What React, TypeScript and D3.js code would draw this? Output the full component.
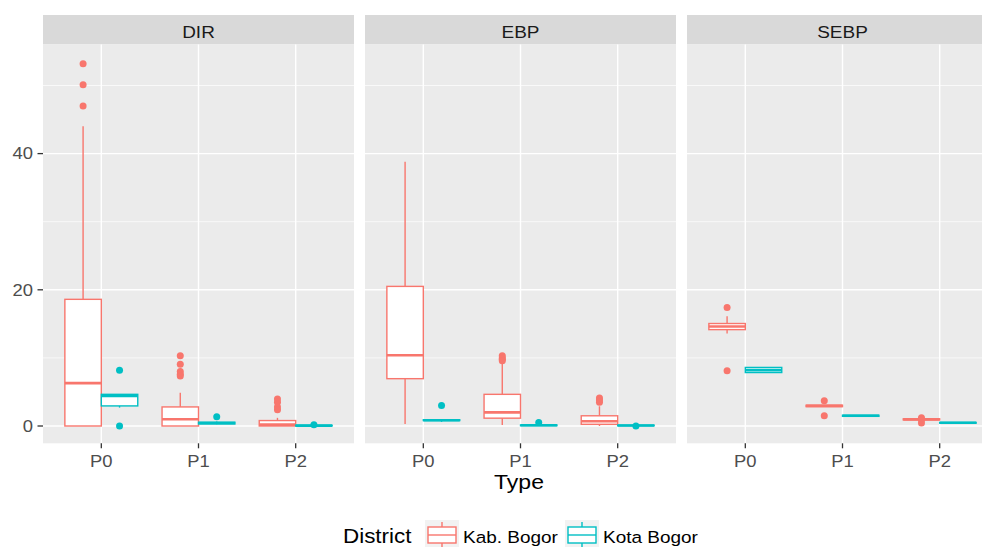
import React, { useEffect, useRef } from 'react';
import * as d3 from 'd3';

// facets, categories, groups
const panels = ['DIR', 'EBP', 'SEBP'];
const types = ['P0', 'P1', 'P2'];
const districts = ['Kab. Bogor', 'Kota Bogor'];
const colors = ['#F8766D', '#00BFC4'];
const yTicks = [0, 20, 40];
const yMinor = [10, 30, 50];

// box stats per type: [lower whisker, q1, median, q3, upper whisker]
const dirKab = [
  [0, 0, 6.3, 18.6, 44],
  [0, 0, 1.0, 2.8, 4.9],
  [0, 0, 0.2, 0.8, 1.2],
];
const dirKota = [
  [2.7, 2.95, 4.4, 4.65, 4.7],
  [0.25, 0.3, 0.45, 0.55, 0.65],
  [0, 0.02, 0.06, 0.1, 0.12],
];
const ebpKab = [
  [0.3, 6.95, 10.4, 20.5, 38.8],
  [0.15, 1.15, 2.0, 4.65, 9.4],
  [0, 0.25, 0.7, 1.5, 2.9],
];
const ebpKota = [
  [0.6, 0.8, 0.85, 0.92, 0.95],
  [0, 0.05, 0.1, 0.15, 0.2],
  [0, 0.04, 0.08, 0.12, 0.15],
];
const sebpKab = [
  [13.6, 14.15, 14.6, 15.05, 16.1],
  [2.85, 2.85, 2.95, 3.05, 3.05],
  [0.9, 0.9, 0.98, 1.05, 1.05],
];
const sebpKota = [
  [7.85, 7.85, 8.2, 8.6, 8.6],
  [1.42, 1.42, 1.5, 1.58, 1.58],
  [0.42, 0.42, 0.48, 0.52, 0.52],
];

// outliers per type
const dirKabOut = [[53.2, 50.1, 47.0], [10.3, 9.05, 8.0, 7.6, 7.35], [3.95, 3.5, 2.8, 2.4]];
const dirKotaOut = [[8.2, 0], [1.37], [0.2]];
const ebpKabOut = [[], [10.3, 10.0, 9.8, 9.6], [4.1, 3.8, 3.5]];
const ebpKotaOut = [[3.0], [0.5], [0]];
const sebpKabOut = [[17.4, 8.1], [3.7, 1.5], [1.2, 0.9, 0.45]];
const sebpKotaOut = [[], [], []];

const boxStats = [
  [dirKab, dirKota],
  [ebpKab, ebpKota],
  [sebpKab, sebpKota],
];
const outStats = [
  [dirKabOut, dirKotaOut],
  [ebpKabOut, ebpKotaOut],
  [sebpKabOut, sebpKotaOut],
];

const FONT = '"Liberation Sans", Arial, sans-serif';
const SX = 1.15;

export default function App() {
  const ref = useRef(null);
  useEffect(() => {
    draw();
    // eslint-disable-next-line react-hooks/exhaustive-deps
  }, []);

  function text(g, str, x, y, size, color, anchor) {
    return g
      .append('text')
      .text(str)
      .attr('transform', `translate(${x},${y}) scale(${SX},1)`)
      .attr('font-family', FONT)
      .attr('font-size', size)
      .attr('fill', color)
      .attr('text-anchor', anchor);
  }

  function draw() {
    const svg = d3.select(ref.current);
    svg.selectAll('*').remove();
    const left = 43;
    const panelW = 311;
    const gap = 11;
    const stripTop = 15;
    const panelTop = 44.5;
    const panelBottom = 443.3;

    const yScale = d3.scaleLinear().domain([-2.54, 56.02]).range([panelBottom, panelTop]);
    const fx = d3
      .scaleBand()
      .domain(panels)
      .range([left, left + 3 * panelW + 2 * gap])
      .paddingInner(gap / (panelW + gap));
    const xScale = d3.scalePoint().domain(types).range([0, panelW]).padding(0.6);
    const step = xScale.step();
    const boxW = step * 0.375;

    // y axis
    const yAxis = svg.append('g');
    yTicks.forEach((t) => {
      yAxis
        .append('line')
        .attr('x1', left - 5.5)
        .attr('x2', left)
        .attr('y1', yScale(t))
        .attr('y2', yScale(t))
        .attr('stroke', '#333333')
        .attr('stroke-width', 1.3);
      text(yAxis, t, 33, yScale(t) + 5.7, 16, '#4D4D4D', 'end');
    });

    panels.forEach((p, pi) => {
      const g = svg.append('g').attr('transform', `translate(${fx(p)},0)`);
      // strip
      g.append('rect')
        .attr('x', 0)
        .attr('y', stripTop)
        .attr('width', panelW)
        .attr('height', panelTop - stripTop)
        .attr('fill', '#D9D9D9');
      text(g, p, panelW / 2, 38.3, 16.5, '#1A1A1A', 'middle');
      // panel bg
      g.append('rect')
        .attr('x', 0)
        .attr('y', panelTop)
        .attr('width', panelW)
        .attr('height', panelBottom - panelTop)
        .attr('fill', '#EBEBEB');
      yMinor.forEach((t) => {
        g.append('line')
          .attr('x1', 0)
          .attr('x2', panelW)
          .attr('y1', yScale(t))
          .attr('y2', yScale(t))
          .attr('stroke', '#FFFFFF')
          .attr('stroke-width', 0.7);
      });
      yTicks.forEach((t) => {
        g.append('line')
          .attr('x1', 0)
          .attr('x2', panelW)
          .attr('y1', yScale(t))
          .attr('y2', yScale(t))
          .attr('stroke', '#FFFFFF')
          .attr('stroke-width', 1.4);
      });
      types.forEach((t) => {
        g.append('line')
          .attr('x1', xScale(t))
          .attr('x2', xScale(t))
          .attr('y1', panelTop)
          .attr('y2', panelBottom)
          .attr('stroke', '#FFFFFF')
          .attr('stroke-width', 1.4);
        // x ticks
        g.append('line')
          .attr('x1', xScale(t))
          .attr('x2', xScale(t))
          .attr('y1', panelBottom)
          .attr('y2', panelBottom + 5)
          .attr('stroke', '#333333')
          .attr('stroke-width', 1.3);
        text(g, t, xScale(t), 466.7, 16, '#4D4D4D', 'middle');
      });

      // boxes
      districts.forEach((d, di) => {
        const col = colors[di];
        types.forEach((t, ti) => {
          const [lo, q1, med, q3, hi] = boxStats[pi][di][ti];
          const cx = xScale(t) + (di === 0 ? -1 : 1) * boxW / 2;
          const bg = g.append('g');
          bg.append('line')
            .attr('x1', cx).attr('x2', cx)
            .attr('y1', yScale(hi)).attr('y2', yScale(q3))
            .attr('stroke', col).attr('stroke-width', 1.4);
          bg.append('line')
            .attr('x1', cx).attr('x2', cx)
            .attr('y1', yScale(q1)).attr('y2', yScale(lo))
            .attr('stroke', col).attr('stroke-width', 1.4);
          bg.append('rect')
            .attr('x', cx - boxW / 2)
            .attr('y', yScale(q3))
            .attr('width', boxW)
            .attr('height', Math.max(0, yScale(q1) - yScale(q3)))
            .attr('fill', '#FFFFFF')
            .attr('stroke', col)
            .attr('stroke-width', 1.4);
          bg.append('line')
            .attr('x1', cx - boxW / 2).attr('x2', cx + boxW / 2)
            .attr('y1', yScale(med)).attr('y2', yScale(med))
            .attr('stroke', col).attr('stroke-width', 2.6);
          outStats[pi][di][ti].forEach((v) => {
            bg.append('circle')
              .attr('cx', cx)
              .attr('cy', yScale(v))
              .attr('r', 3.5)
              .attr('fill', col);
          });
        });
      });
    });

    // axis title
    text(svg, 'Type', 519, 489.3, 20, '#000000', 'middle');

    // legend
    const lg = svg.append('g');
    text(lg, 'District', 343, 543.3, 19.5, '#000000', 'start');
    const keyX = [425, 565];
    const labX = [463, 603];
    districts.forEach((d, di) => {
      const col = colors[di];
      const kx = keyX[di];
      lg.append('rect').attr('x', kx).attr('y', 520).attr('width', 34).attr('height', 34).attr('fill', '#F2F2F2');
      const cx = kx + 17;
      lg.append('line').attr('x1', cx).attr('x2', cx).attr('y1', 522).attr('y2', 527).attr('stroke', col).attr('stroke-width', 1.4);
      lg.append('line').attr('x1', cx).attr('x2', cx).attr('y1', 543).attr('y2', 548).attr('stroke', col).attr('stroke-width', 1.4);
      lg.append('rect').attr('x', kx + 3).attr('y', 527).attr('width', 28).attr('height', 16).attr('fill', '#FFFFFF').attr('stroke', col).attr('stroke-width', 1.4);
      lg.append('line').attr('x1', kx + 3).attr('x2', kx + 31).attr('y1', 535).attr('y2', 535).attr('stroke', col).attr('stroke-width', 1.4);
      text(lg, d, labX[di], 543.3, 16.5, '#000000', 'start');
    });
  }

  return (
    <svg
      ref={ref}
      width={982}
      height={547}
      style={{ position: 'absolute', left: 0, top: 0, background: '#FFFFFF' }}
    ></svg>
  );
}
